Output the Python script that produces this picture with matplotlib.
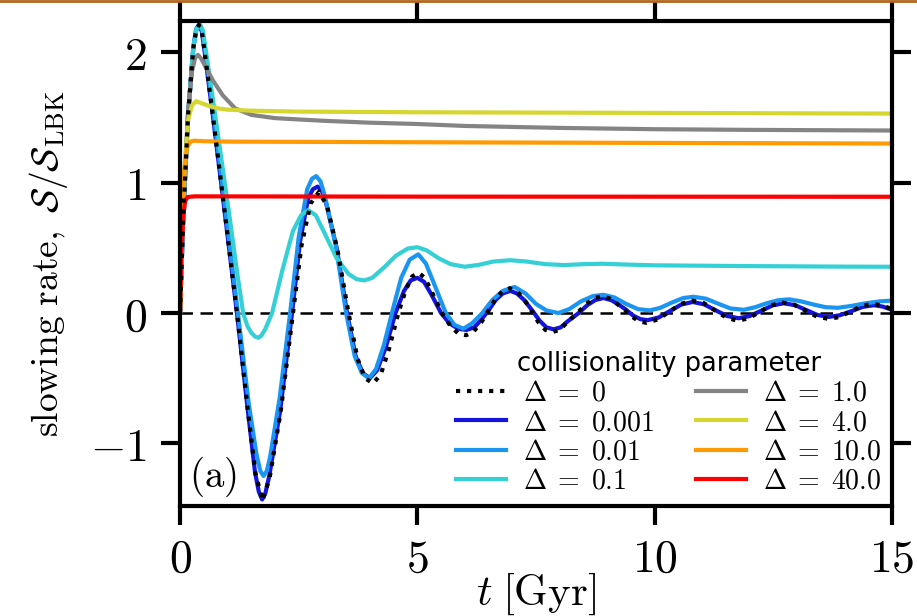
import numpy as np
import matplotlib
matplotlib.use("Agg")
import matplotlib.pyplot as plt
from matplotlib.lines import Line2D

plt.rcParams["mathtext.fontset"] = "cm"
plt.rcParams["font.family"] = ["DejaVu Sans"]

# (t [Gyr], S/S_LBK)
d0 = [(0, 0), (0.07, 0.75), (0.17, 1.52), (0.28, 2.03), (0.34, 2.17), (0.40, 2.21), (0.46, 2.16), (0.52, 2.0),
      (0.69, 1.52), (0.95, 0.75), (1.20, 0.0), (1.43, -0.75), (1.59, -1.23), (1.74, -1.44), (1.89, -1.26),
      (2.12, -0.76), (2.38, 0.0), (2.56, 0.52), (2.75, 0.84), (2.93, 0.93), (3.10, 0.82), (3.32, 0.48),
      (3.55, 0.0), (3.74, -0.35), (3.90, -0.50), (4.07, -0.54), (4.23, -0.47), (4.40, -0.28), (4.60, 0.0),
      (4.76, 0.18), (4.89, 0.28), (5.02, 0.31), (5.16, 0.27), (5.32, 0.15), (5.52, 0.0), (5.70, -0.10),
      (5.87, -0.16), (6.03, -0.17), (6.19, -0.14), (6.35, -0.07), (6.50, 0.02), (6.65, 0.11), (6.80, 0.17),
      (6.95, 0.19), (7.09, 0.17), (7.24, 0.11), (7.40, 0.02), (7.55, -0.07), (7.70, -0.13), (7.85, -0.145),
      (8.00, -0.13), (8.16, -0.07), (8.37, 0.0), (8.56, 0.07), (8.73, 0.115), (8.90, 0.13), (9.06, 0.11),
      (9.21, 0.07), (9.37, 0.025), (9.53, -0.03), (9.68, -0.065), (9.83, -0.075), (10.06, -0.05), (10.31, 0.01),
      (10.55, 0.07), (10.80, 0.095), (11.04, 0.075), (11.28, 0.018), (11.51, -0.035), (11.75, -0.06),
      (11.98, -0.04), (12.22, 0.01), (12.46, 0.06), (12.70, 0.08), (12.94, 0.063), (13.18, 0.018),
      (13.42, -0.028), (13.67, -0.045), (13.90, -0.03), (14.13, 0.013), (14.37, 0.055), (14.60, 0.07),
      (14.80, 0.058), (15.0, 0.03)]

d0001 = [(0, 0), (0.07, 0.75), (0.17, 1.52), (0.28, 2.03), (0.34, 2.17), (0.40, 2.21), (0.46, 2.16), (0.52, 2.0),
         (0.69, 1.52), (0.95, 0.75), (1.20, 0.0), (1.43, -0.75), (1.58, -1.22), (1.66, -1.37), (1.73, -1.43),
         (1.80, -1.38), (1.88, -1.25), (2.11, -0.75), (2.36, 0.0), (2.53, 0.55), (2.70, 0.88), (2.80, 0.95),
         (2.90, 0.97), (3.00, 0.93), (3.08, 0.84), (3.30, 0.50), (3.52, 0.0), (3.70, -0.33), (3.85, -0.46),
         (4.00, -0.50), (4.15, -0.44), (4.33, -0.27), (4.54, 0.0), (4.72, 0.17), (4.86, 0.25), (5.00, 0.27),
         (5.14, 0.24), (5.30, 0.14), (5.50, 0.0), (5.68, -0.08), (5.86, -0.12), (6.03, -0.13), (6.20, -0.11),
         (6.35, -0.05), (6.50, 0.02), (6.65, 0.10), (6.80, 0.15), (6.96, 0.17), (7.10, 0.15), (7.25, 0.10),
         (7.42, 0.02), (7.58, -0.06), (7.72, -0.11), (7.87, -0.125), (8.02, -0.11), (8.18, -0.06), (8.40, 0.0),
         (8.58, 0.06), (8.75, 0.10), (8.92, 0.115), (9.08, 0.10), (9.22, 0.07), (9.38, 0.03), (9.55, -0.02),
         (9.70, -0.047), (9.85, -0.055), (10.08, -0.035), (10.32, 0.015), (10.56, 0.065), (10.80, 0.085),
         (11.04, 0.067), (11.28, 0.022), (11.52, -0.022), (11.77, -0.04), (12.00, -0.023), (12.25, 0.018),
         (12.48, 0.058), (12.72, 0.075), (12.96, 0.06), (13.20, 0.022), (13.43, -0.015), (13.67, -0.03),
         (13.90, -0.017), (14.15, 0.015), (14.38, 0.047), (14.62, 0.06), (14.80, 0.05), (15.0, 0.025)]

d001 = [(0, 0), (0.07, 0.75), (0.17, 1.52), (0.28, 2.04), (0.34, 2.18), (0.41, 2.22), (0.47, 2.17), (0.53, 2.02),
        (0.71, 1.52), (0.97, 0.75), (1.22, 0.0), (1.45, -0.70), (1.61, -1.08), (1.69, -1.21), (1.76, -1.25),
        (1.83, -1.21), (1.90, -1.10), (2.10, -0.65), (2.32, 0.0), (2.50, 0.58), (2.68, 0.95), (2.78, 1.03),
        (2.87, 1.05), (2.96, 1.01), (3.05, 0.90), (3.28, 0.52), (3.50, 0.0), (3.68, -0.33), (3.83, -0.46),
        (3.98, -0.50), (4.13, -0.43), (4.30, -0.24), (4.50, 0.05), (4.66, 0.27), (4.84, 0.41), (5.02, 0.45),
        (5.18, 0.38), (5.38, 0.20), (5.60, 0.0), (5.78, -0.09), (5.97, -0.12), (6.15, -0.08), (6.37, 0.0),
        (6.58, 0.10), (6.80, 0.17), (7.05, 0.20), (7.28, 0.15), (7.50, 0.07), (7.72, 0.02), (7.97, 0.0),
        (8.20, 0.03), (8.45, 0.09), (8.70, 0.13), (8.92, 0.14), (9.15, 0.12), (9.40, 0.07), (9.65, 0.03),
        (9.90, 0.02), (10.12, 0.04), (10.36, 0.08), (10.60, 0.115), (10.82, 0.125), (11.08, 0.11),
        (11.35, 0.07), (11.60, 0.035), (11.88, 0.025), (12.12, 0.045), (12.36, 0.075), (12.60, 0.098),
        (12.83, 0.105), (13.08, 0.09), (13.35, 0.065), (13.60, 0.045), (13.86, 0.04), (14.15, 0.055),
        (14.45, 0.075), (14.75, 0.09), (15.0, 0.095)]

d01 = [(0, 0), (0.07, 0.75), (0.17, 1.52), (0.28, 2.04), (0.35, 2.18), (0.42, 2.21), (0.48, 2.17), (0.55, 2.0),
       (0.74, 1.52), (1.04, 0.75), (1.20, 0.32), (1.33, 0.0), (1.42, -0.10), (1.50, -0.15), (1.58, -0.18),
       (1.65, -0.19), (1.72, -0.17), (1.80, -0.12), (1.94, 0.0), (2.15, 0.32), (2.38, 0.63), (2.55, 0.75),
       (2.70, 0.79), (2.86, 0.75), (3.05, 0.61), (3.30, 0.42), (3.55, 0.30), (3.72, 0.26), (3.88, 0.25),
       (4.05, 0.27), (4.30, 0.35), (4.55, 0.44), (4.80, 0.495), (5.00, 0.505), (5.20, 0.48), (5.45, 0.42),
       (5.70, 0.375), (6.00, 0.355), (6.30, 0.37), (6.60, 0.395), (6.96, 0.405), (7.30, 0.395), (7.70, 0.375),
       (8.10, 0.368), (8.50, 0.375), (8.90, 0.378), (9.40, 0.372), (10.0, 0.366), (11.0, 0.363), (12.0, 0.36),
       (13.0, 0.358), (14.0, 0.356), (15.0, 0.355)]

d1 = [(0, 0), (0.05, 0.55), (0.10, 1.05), (0.17, 1.55), (0.25, 1.85), (0.32, 1.96), (0.38, 1.98), (0.45, 1.95),
      (0.55, 1.88), (0.70, 1.78), (0.90, 1.67), (1.16, 1.57), (1.5, 1.52), (2.0, 1.495), (2.5, 1.485),
      (3.0, 1.475), (4.0, 1.46), (5.0, 1.45), (6.0, 1.435), (8.0, 1.42), (10.0, 1.41), (12.0, 1.405), (15.0, 1.40)]

d4 = [(0, 0), (0.05, 0.7), (0.10, 1.15), (0.17, 1.48), (0.25, 1.59), (0.34, 1.625), (0.45, 1.61), (0.6, 1.59),
      (0.8, 1.57), (1.0, 1.56), (1.5, 1.552), (2.5, 1.545), (5.0, 1.54), (10.0, 1.535), (15.0, 1.53)]

d10 = [(0, 0), (0.04, 0.7), (0.09, 1.1), (0.15, 1.27), (0.22, 1.315), (0.3, 1.322), (0.5, 1.318), (1.0, 1.315),
       (5.0, 1.31), (10.0, 1.305), (15.0, 1.30)]

d40 = [(0, 0), (0.03, 0.45), (0.07, 0.75), (0.11, 0.86), (0.16, 0.89), (0.3, 0.895), (5.0, 0.893), (15.0, 0.892)]

series = [d0, d0001, d001, d01, d1, d4, d10, d40]
labels = ["0", "0.001", "0.01", "0.1", "1.0", "4.0", "10.0", "40.0"]
colors = ["black", "#1414dc", "#1a96f2", "#34d0d6", "#848484", "#d6d630", "#ff9a00", "#ff0000"]

fig = plt.figure(figsize=(9.17, 6.16), dpi=100)
ax = fig.add_axes([0.1963, 0.1786, 0.7764, 0.7873])

ax.axhline(0, color="black", lw=1.8, dashes=(5, 3), zorder=1)

for data, lab, col in zip(series, labels, colors):
    arr = np.array(data)
    ls = ":" if lab == "0" else "-"
    z = 4 if lab == "0" else 2
    ax.plot(arr[:, 0], arr[:, 1], color=col, lw=3, ls=ls, zorder=z,
            label=r"$\Delta\;=\;%s$" % lab)

ax.set_xlim(0, 15)
ax.set_ylim(-1.48, 2.24)

xticks = [0, 5, 10, 15]
yticks = [-1, 0, 1, 2]
ax.set_xticks(xticks, [r"$%d$" % v for v in xticks])
ax.set_yticks(yticks, [r"$%d$" % v for v in yticks])
ax.tick_params(direction="out", length=14, width=3, labelsize=33,
               top=True, right=True)
ax.tick_params(axis="x", pad=8)
ax.tick_params(axis="y", pad=10)
for sp in ax.spines.values():
    sp.set_linewidth(3)

ax.set_xlabel(r"$t\;[\mathrm{Gyr}]$", fontsize=31, labelpad=-7)
ax.set_ylabel(r"$\mathrm{slowing\ rate,}\ \mathcal{S}/\mathcal{S}_\mathrm{LBK}$", fontsize=27, labelpad=14)

ax.text(0.013, 0.015, r"$\mathrm{(a)}$", transform=ax.transAxes, fontsize=28,
        ha="left", va="bottom")

leg = ax.legend(ncol=2, loc="lower right", frameon=False, fontsize=20,
                title="collisionality parameter",
                title_fontproperties={"family": "DejaVu Sans", "size": 18.5},
                handlelength=1.8, handletextpad=0.6, columnspacing=1.5,
                labelspacing=0.05, borderaxespad=0.0)

# thin brown rule along the top edge of the screenshot
fig.add_artist(Line2D([0, 1], [0.998, 0.998], transform=fig.transFigure,
                      color="#b5651d", lw=2))

fig.savefig("out.png", dpi=100)
